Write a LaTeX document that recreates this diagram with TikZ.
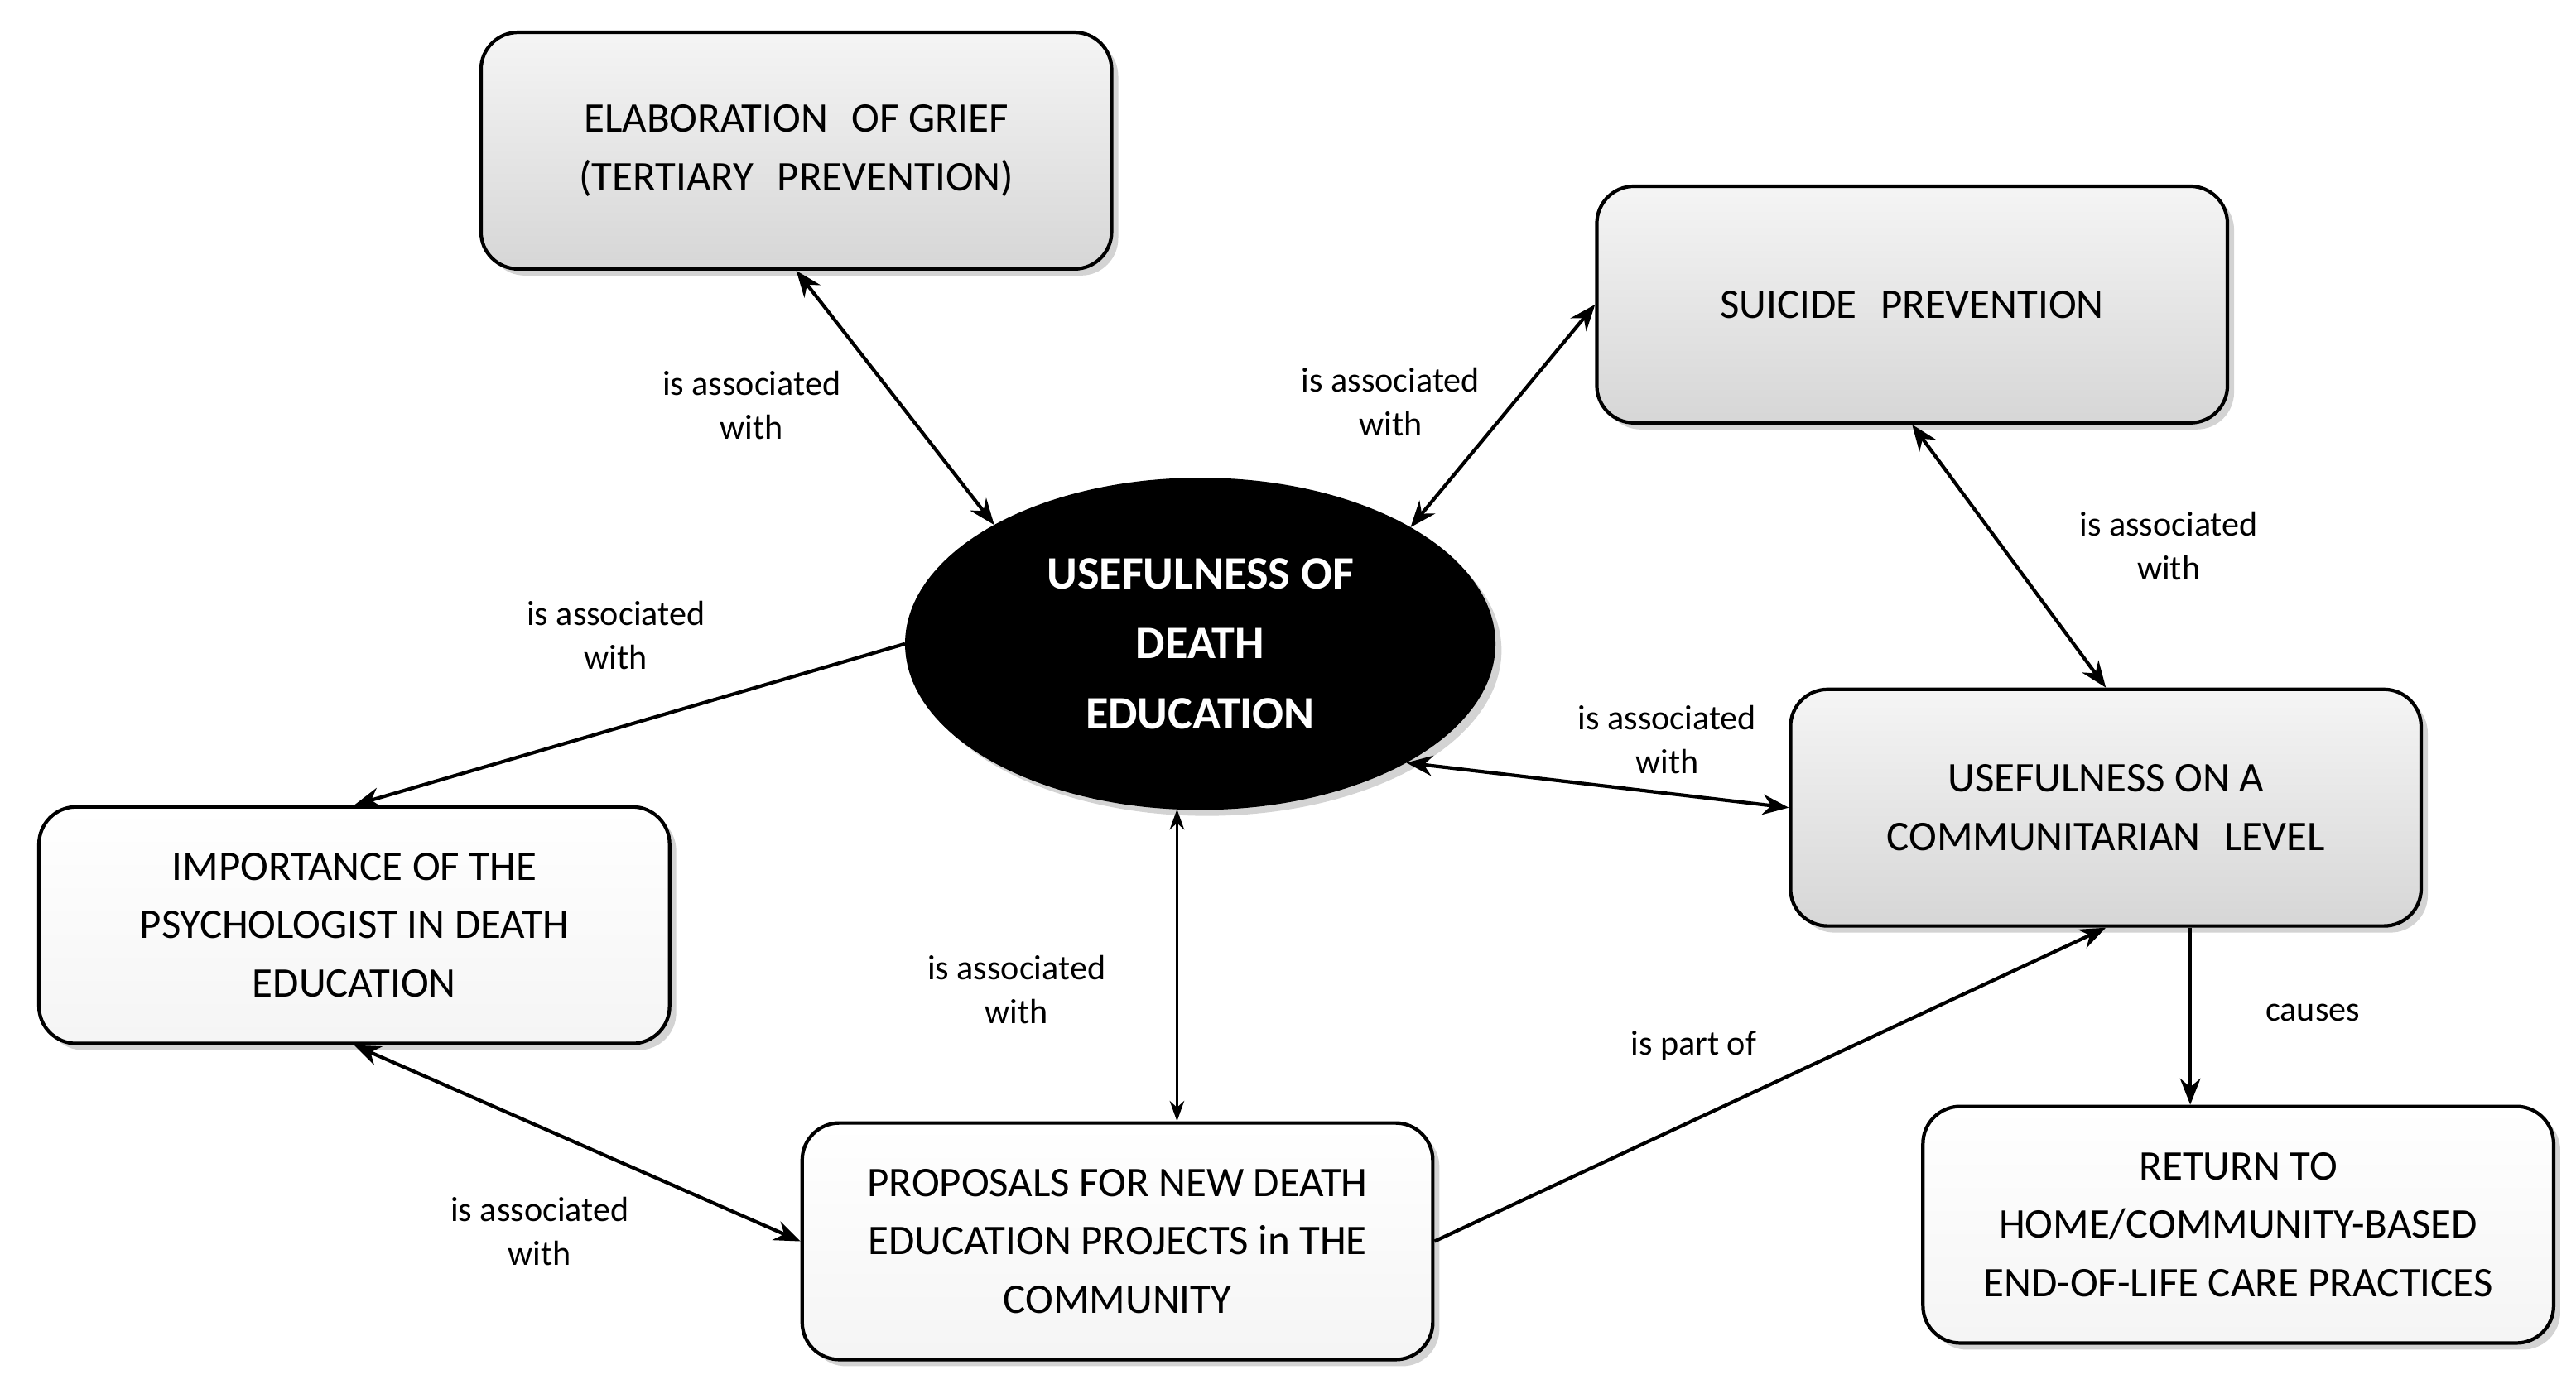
\documentclass[tikz,border=0pt]{standalone}
\usepackage{fontspec}
\setmainfont{Carlito}
\usetikzlibrary{shapes.geometric,shadows,arrows.meta,calc}
\begin{document}
\begin{tikzpicture}[x=0.02cm,y=-0.02cm,
  box/.style={draw=black,line width=1.2pt,rounded corners=0.45cm,minimum width=7.62cm,minimum height=2.86cm,align=center,font=\fontsize{14.5}{20}\selectfont,drop shadow={shadow xshift=0.08cm,shadow yshift=-0.08cm,opacity=0.35}},
  gbox/.style={box,top color=gray!8,bottom color=gray!32},
  wbox/.style={box,top color=white,bottom color=gray!8},
  lab/.style={align=center,font=\fontsize{12}{15}\selectfont},
  con/.style={line width=1.2pt,-{Stealth[length=9pt,width=7pt]}},
  bcon/.style={line width=1.2pt,{Stealth[length=9pt,width=7pt]}-{Stealth[length=9pt,width=7pt]}}]
\useasboundingbox (0,0) rectangle (1556,839);
\node[gbox] (grief) at (481,91) {ELABORATION\,\, OF GRIEF\\(TERTIARY\,\, PREVENTION)};
\node[gbox] (sui) at (1155,184) {SUICIDE\,\, PREVENTION};
\node[gbox] (comm) at (1272,488) {USEFULNESS ON A\\COMMUNITARIAN\,\, LEVEL};
\node[wbox] (psy) at (214,559) {IMPORTANCE OF THE\\PSYCHOLOGIST IN DEATH\\EDUCATION};
\node[wbox] (prop) at (675,750) {PROPOSALS FOR NEW DEATH\\EDUCATION PROJECTS in THE\\COMMUNITY};
\node[wbox] (ret) at (1352,740) {RETURN TO\\HOME/COMMUNITY-BASED\\END-OF-LIFE CARE PRACTICES};
\node[ellipse,fill=black,draw=black,minimum width=7.12cm,minimum height=4cm,align=center,text=white,font=\bfseries\fontsize{16}{24}\selectfont,drop shadow={shadow xshift=0.08cm,shadow yshift=-0.08cm,opacity=0.35}] (el) at (725,389) {USEFULNESS OF\\DEATH\\EDUCATION};
\draw[bcon] (grief.south) -- (el.150);
\draw[bcon] (el.29) -- (sui.west);
\draw[bcon] (sui.south) -- (comm.north);
\draw[bcon] (el.-30) -- (comm.west);
\draw[con] (el.west) -- (psy.north);
\draw[line width=0.8pt,{Stealth[length=7pt,width=5pt]}-{Stealth[length=7pt,width=5pt]}] (el.-98) -- (el.-98 |- prop.north);
\draw[bcon] (psy.south) -- (prop.west);
\draw[con] (prop.east) -- (comm.south);
\coordinate (cs) at ($(comm.south)+(51,0)$);
\draw[con] (cs) -- (cs |- ret.north);
\node[lab] (l1) at (454,245) {is associated\\with};
\node[lab] (l2) at (840,243) {is associated\\with};
\node[lab] (l3) at (1310,330) {is associated\\with};
\node[lab] (l4) at (372,384) {is associated\\with};
\node[lab] (l5) at (1007,447) {is associated\\with};
\node[lab] (l6) at (614,598) {is associated\\with};
\node[lab] (l7) at (326,744) {is associated\\with};
\node[lab] (l8) at (1023,632) {is part of};
\node[lab] (l9) at (1397,612) {causes};
\end{tikzpicture}
\end{document}
